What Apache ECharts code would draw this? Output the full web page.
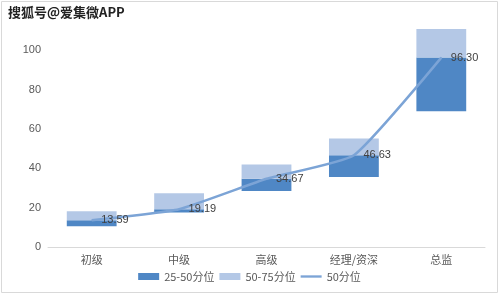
<!DOCTYPE html>
<html><head><meta charset="utf-8">
<script src="https://cdn.jsdelivr.net/npm/echarts@6/dist/echarts.min.js"></script>
<style>html,body{margin:0;padding:0;background:#fff}#c{width:499px;height:295px}</style>
</head><body><div id="c"></div>
<script>
const categories = ['初级', '中级', '高级', '经理/资深', '总监'];
const p25 = [10.6, 17.6, 28.5, 35.6, 69.0];
const p50 = [13.59, 19.19, 34.67, 46.63, 96.30];
const p75 = [18.2, 27.3, 42.0, 55.2, 110.9];
const yTicks = [0, 20, 40, 60, 80, 100];

const chart = echarts.init(document.getElementById('c'));
const darkC = '#4f87c5', lightC = '#b4c8e6', lineC = '#7ca4d6';
chart.setOption({
  animation: false,
  graphic: [
    {type: 'rect', shape: {x: 1.5, y: 1.5, width: 496, height: 291}, style: {fill: 'none', stroke: '#d9d9d9', lineWidth: 1}, z: -10},
    {type: 'text', left: 7, top: 5, style: {text: '搜狐号@爱集微APP', font: 'bold 13px "Noto Sans CJK SC"', fill: '#222', stroke: '#fff', lineWidth: 2}, z: 100}
  ],
  grid: {left: 48, right: 14, top: 11, bottom: 48},
  xAxis: {
    type: 'category', data: categories,
    axisLine: {lineStyle: {color: '#d9d9d9'}},
    axisTick: {show: false},
    axisLabel: {color: '#595959', fontSize: 11, fontFamily: '"Noto Sans CJK SC"', margin: 7}
  },
  yAxis: {
    type: 'value', min: 0, max: 120, interval: 20,
    splitLine: {show: false},
    axisLine: {show: false}, axisTick: {show: false},
    axisLabel: {color: '#595959', fontSize: 11, fontFamily: '"Liberation Sans"', margin: 7,
      formatter: v => yTicks.includes(v) ? String(v) : ''}
  },
  legend: {
    data: [{name: '25-50分位', icon: 'rect'}, {name: '50-75分位', icon: 'rect'},
           {name: '50分位', icon: 'path://M0,0 L18,0 L18,2 L0,2 Z', itemStyle: {color: lineC, opacity: 1}}],
    bottom: 8, left: 'center', itemWidth: 21, itemHeight: 7, itemGap: 5,
    textStyle: {color: '#595959', fontSize: 11, fontFamily: '"Noto Sans CJK SC"'}
  },
  series: [
    {name: 'base', type: 'bar', stack: 's', data: p25, itemStyle: {color: 'transparent'}, barWidth: '57%', silent: true},
    {name: '25-50分位', type: 'bar', stack: 's', data: p50.map((v, i) => +(v - p25[i]).toFixed(2)), itemStyle: {color: darkC}},
    {name: '50-75分位', type: 'bar', stack: 's', data: p75.map((v, i) => +(v - p50[i]).toFixed(2)), itemStyle: {color: lightC}},
    {name: '50分位', type: 'line', data: p50, smooth: 0.15, symbol: 'circle', symbolSize: 1, showSymbol: true, z: 5,
      lineStyle: {color: lineC, width: 2.5}, itemStyle: {color: lineC},
      label: {show: true, position: 'right', distance: 9, color: '#404040', fontSize: 11, fontFamily: '"Liberation Sans"',
        formatter: p => Number(p.value).toFixed(2)}}
  ]
});
</script></body></html>
